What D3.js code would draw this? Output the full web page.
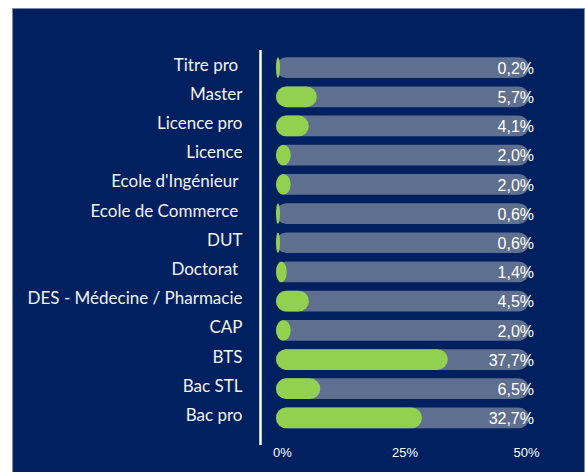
<!DOCTYPE html>
<html>
<head>
<meta charset="utf-8">
<script src="https://cdn.jsdelivr.net/npm/d3@7"></script>
<style>
  body { margin: 0; background: #fff; }
  svg { display: block; }
  .cat text { white-space: pre; }
</style>
</head>
<body>
<svg id="chart" width="586" height="472"></svg>
<script>
// categories, top to bottom (some labels carry a trailing space, as in the source)
const categories = ["Titre pro ", "Master", "Licence pro", "Licence", "Ecole d'Ingénieur ",
  "Ecole de Commerce ", "DUT", "Doctorat ", "DES - Médecine / Pharmacie", "CAP",
  "BTS", "Bac STL", "Bac pro"];

// printed shares (%)
const shares = [0.2, 5.7, 4.1, 2.0, 2.0, 0.6, 0.6, 1.4, 4.5, 2.0, 37.7, 6.5, 32.7];

// green bar lengths as drawn, read against the 0-50% axis
const barLength = [0.4, 7.8, 6.2, 2.55, 2.55, 0.4, 0.4, 1.75, 6.2, 2.55, 34.1, 8.5, 28.9];

const trackMax = 50;
const tickValues = [0, 25, 50];

const svg = d3.select("#chart");

// dark panel
svg.append("rect")
    .attr("x", 12.5).attr("y", 8.5)
    .attr("width", 572).attr("height", 470)
    .attr("fill", "#00205f")
    .attr("stroke", "#7c8cae")
    .attr("stroke-width", 1);

const x = d3.scaleLinear().domain([0, trackMax]).range([278, 527]);
const y = d3.scaleBand().domain(categories).range([53, 432.5])
    .paddingInner(0.29).paddingOuter(0.145);

const pad = 2;           // bars start a little left of zero
const bh = y.bandwidth();
const r = bh / 2;

// gray tracks
svg.append("g").selectAll("rect")
    .data(categories)
    .join("rect")
    .attr("x", x(0) - pad)
    .attr("y", d => y(d))
    .attr("width", x(trackMax) - x(0) + 2 * pad)
    .attr("height", bh)
    .attr("rx", r).attr("ry", r)
    .attr("fill", "#5f6f8f");

// green bars
svg.append("g").selectAll("rect")
    .data(categories)
    .join("rect")
    .attr("x", x(0) - pad)
    .attr("y", d => y(d))
    .attr("width", (d, i) => x(barLength[i]) - x(0) + pad)
    .attr("height", bh)
    .attr("rx", (d, i) => Math.min(r, (x(barLength[i]) - x(0) + pad) / 2))
    .attr("ry", r)
    .attr("fill", "#92d050");

// value labels
const fmt = v => v.toFixed(1).replace(".", ",") + "%";
svg.append("g").selectAll("text")
    .data(categories)
    .join("text")
    .attr("x", 534)
    .attr("y", d => y(d) + bh / 2)
    .attr("dy", "0.39em")
    .attr("text-anchor", "end")
    .attr("fill", "#fff")
    .style("font-family", "'Liberation Sans', Arial, sans-serif")
    .style("font-size", "16px")
    .text((d, i) => fmt(shares[i]));

// category axis
const yAxis = svg.append("g")
    .attr("class", "cat")
    .attr("transform", "translate(260.5,0)")
    .call(d3.axisLeft(y).tickSize(0).tickPadding(18));
yAxis.select(".domain").remove();
yAxis.selectAll("text")
    .attr("fill", "#f2f2f2")
    .attr("dy", "0.18em")
    .style("font-family", "Lato, 'Open Sans', sans-serif")
    .style("font-size", "17px");

svg.append("line")
    .attr("x1", 260.5).attr("x2", 260.5)
    .attr("y1", y.range()[0] - 3).attr("y2", y.range()[1] + 12.5)
    .attr("stroke", "#fff")
    .attr("stroke-width", 2.5);

// percent axis
const xAxis = svg.append("g")
    .attr("transform", "translate(0,443)")
    .call(d3.axisBottom(x).tickValues(tickValues).tickSize(0).tickPadding(0)
        .tickFormat(d => d + "%"));
xAxis.select(".domain").remove();
xAxis.selectAll("text")
    .attr("fill", "#fff")
    .attr("y", 13.5)
    .attr("dy", 0)
    .attr("dx", d => d === 0 ? 4 : d === 25 ? 2 : -1)
    .style("font-family", "'Liberation Sans', Arial, sans-serif")
    .style("font-size", "13px");
</script>
</body>
</html>
